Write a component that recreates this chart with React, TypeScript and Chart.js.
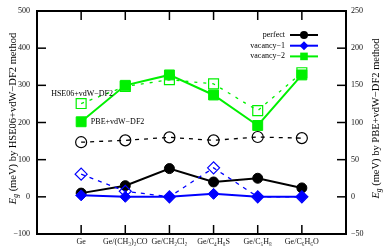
import React, { useEffect, useRef } from 'react';
import { Chart, registerables } from 'chart.js';

Chart.register(...registerables);

const categories = ['Ge', 'Ge/(CH₃)₂CO', 'Ge/CH₂Cl₂', 'Ge/C₄H₈S', 'Ge/C₅H₈', 'Ge/C₆H₆O'];

// PBE+vdW-DF2 band gaps (meV), right axis, filled markers
const pbePerfect = [5, 15, 38, 20, 25, 12];
const pbeVacancy1 = [2, 0, 0, 4, 0, 0];
const pbeVacancy2 = [101, 150, 164, 137, 96, 164];

// HSE06+vdW-DF2 band gaps (meV), left axis, open markers
const hsePerfect = [147, 152, 160, 152, 161, 158];
const hseVacancy1 = [61, 15, 0, 78, 0, 0];
const hseVacancy2 = [251, 297, 315, 304, 232, 334];

const seriesNames = ['perfect', 'vacancy−1', 'vacancy−2'];

const leftRange = [-100, 500];
const leftStep = 100;
const rightRange = [-50, 250];
const rightStep = 50;

const leftTitle = ' (meV) by HSE06+vdW−DF2 method';
const rightTitle = ' (meV) by PBE+vdW−DF2 method';

const annotations = [
  { text: 'HSE06+vdW−DF2', x: 0.32, y: 276, axis: 'y' },
  { text: 'PBE+vdW−DF2', x: 1.22, y: 101, axis: 'y2' },
];

const FONT = "'Liberation Serif', 'Times New Roman', 'DejaVu Serif', serif";
const BLACK = '#000000';
const BLUE = '#0000ff';
const GREEN = '#00f000';

const toXY = (arr: number[]) => arr.map((v, i) => ({ x: i + 1, y: v }));

function mk(label: string, data: number[], axis: string, color: string, style: string, radius: number, filled: boolean, order: number, dash: number[]) {
  return {
    label,
    data: toXY(data),
    yAxisID: axis,
    borderColor: color,
    backgroundColor: filled ? color : 'rgba(0,0,0,0)',
    pointStyle: style,
    pointRadius: radius,
    pointHoverRadius: radius,
    pointBorderColor: color,
    pointBackgroundColor: filled ? color : 'rgba(0,0,0,0)',
    pointBorderWidth: filled ? 1 : 1.2,
    borderWidth: filled ? 2 : 1.3,
    borderDash: dash,
    tension: 0,
    fill: false,
    order,
    clip: false as any,
    filled,
  } as any;
}

function drawMarker(ctx: CanvasRenderingContext2D, style: string, x: number, y: number, r: number, color: string) {
  ctx.fillStyle = color;
  ctx.beginPath();
  if (style === 'circle') {
    ctx.arc(x, y, r, 0, Math.PI * 2);
  } else if (style === 'rectRot') {
    ctx.moveTo(x, y - r);
    ctx.lineTo(x + r, y);
    ctx.lineTo(x, y + r);
    ctx.lineTo(x - r, y);
    ctx.closePath();
  } else {
    ctx.rect(x - r, y - r, 2 * r, 2 * r);
  }
  ctx.fill();
}

const framePlugin = {
  id: 'frameTicks',
  afterDraw(chart: any) {
    const { ctx, chartArea, scales } = chart;
    const { left, right, top, bottom } = chartArea;
    ctx.save();
    ctx.strokeStyle = '#000';
    ctx.lineWidth = 1.5;
    const line = (x1: number, y1: number, x2: number, y2: number) => {
      ctx.beginPath();
      ctx.moveTo(x1, y1);
      ctx.lineTo(x2, y2);
      ctx.stroke();
    };
    scales.y.ticks.forEach((t: any) => {
      const p = scales.y.getPixelForValue(t.value);
      line(left, p, left + 9, p);
    });
    scales.y2.ticks.forEach((t: any) => {
      const p = scales.y2.getPixelForValue(t.value);
      line(right, p, right - 9, p);
    });
    scales.x.ticks.forEach((t: any) => {
      const p = scales.x.getPixelForValue(t.value);
      line(p, bottom, p, bottom - 9);
      line(p, top, p, top + 9);
    });
    ctx.lineWidth = 2;
    ctx.strokeRect(left, top, right - left, bottom - top);
    ctx.restore();
  },
};

const legendPlugin = {
  id: 'customLegend',
  afterDraw(chart: any) {
    const { ctx, chartArea } = chart;
    const items = chart.data.datasets.filter((d: any) => d.filled);
    const textRight = chartArea.right - 61;
    const lineL = chartArea.right - 56;
    const lineR = chartArea.right - 28;
    const mx = (lineL + lineR) / 2;
    ctx.save();
    ctx.font = `8px ${FONT}`;
    ctx.textAlign = 'right';
    ctx.textBaseline = 'middle';
    items.forEach((d: any, i: number) => {
      const y = chartArea.top + 24 + i * 10.7;
      ctx.fillStyle = '#000';
      ctx.fillText(d.label, textRight, y);
      ctx.strokeStyle = d.borderColor;
      ctx.lineWidth = 2;
      ctx.beginPath();
      ctx.moveTo(lineL, y);
      ctx.lineTo(lineR, y);
      ctx.stroke();
      const r = d.pointStyle === 'circle' ? 4 : d.pointStyle === 'rectRot' ? 4.5 : 3.8;
      drawMarker(ctx, d.pointStyle, mx, y, r, d.borderColor);
    });
    ctx.restore();
  },
};

const textPlugin = {
  id: 'texts',
  afterDraw(chart: any) {
    const { ctx, chartArea, scales } = chart;
    ctx.save();
    ctx.fillStyle = '#000';
    ctx.font = `8px ${FONT}`;
    ctx.textAlign = 'left';
    ctx.textBaseline = 'middle';
    annotations.forEach((a) => {
      ctx.fillText(a.text, scales.x.getPixelForValue(a.x), scales[a.axis].getPixelForValue(a.y));
    });

    const drawTitle = (cx: number, cy: number, rest: string) => {
      const big = `10.5px ${FONT}`;
      const bigI = `italic 10.5px ${FONT}`;
      const small = `italic 7.5px ${FONT}`;
      ctx.font = bigI;
      const wE = ctx.measureText('E').width;
      ctx.font = small;
      const wg = ctx.measureText('g').width;
      ctx.font = big;
      const wr = ctx.measureText(rest).width;
      const total = wE + wg + wr;
      ctx.save();
      ctx.translate(cx, cy);
      ctx.rotate(-Math.PI / 2);
      ctx.textBaseline = 'alphabetic';
      ctx.textAlign = 'left';
      let x = -total / 2;
      const base = 3.5;
      ctx.font = bigI;
      ctx.fillText('E', x, base);
      x += wE;
      ctx.font = small;
      ctx.fillText('g', x, base + 2.5);
      x += wg;
      ctx.font = big;
      ctx.fillText(rest, x, base);
      ctx.restore();
    };
    const cy = (chartArea.top + chartArea.bottom) / 2 - 4;
    drawTitle(chartArea.left - 25, cy, leftTitle);
    drawTitle(chartArea.right + 29, cy, rightTitle);
    ctx.restore();
  },
};

const minusFmt = (v: any) => String(v).replace('-', '−');

export default function App() {
  const ref = useRef<HTMLCanvasElement | null>(null);

  useEffect(() => {
    document.body.style.margin = '0';
    const canvas = ref.current!;
    const datasets = [
      mk(seriesNames[1], pbeVacancy1, 'y2', BLUE, 'rectRot', 5.5, true, 3, []),
      mk(seriesNames[0], pbePerfect, 'y2', BLACK, 'circle', 5, true, 4, []),
      mk(seriesNames[2], pbeVacancy2, 'y2', GREEN, 'rect', 7, true, 5, []),
      mk(seriesNames[1], hseVacancy1, 'y', BLUE, 'rectRot', 6, false, 0, [4, 5]),
      mk(seriesNames[0], hsePerfect, 'y', BLACK, 'circle', 5.5, false, 1, [4, 5]),
      mk(seriesNames[2], hseVacancy2, 'y', GREEN, 'rect', 7, false, 2, [3, 6]),
    ];
    // legend order: perfect, vacancy-1, vacancy-2
    const legendOrder = [1, 0, 2];
    const ordered = [...legendOrder.map((i) => datasets[i]), ...datasets.slice(3)];

    const tickFont = { family: FONT, size: 8, lineHeight: 1 };
    const chart = new Chart(canvas, {
      type: 'line',
      data: { datasets: ordered },
      options: {
        animation: false,
        responsive: false,
        maintainAspectRatio: false,
        layout: { padding: { top: 4, left: 0, right: 0, bottom: 0 } },
        plugins: { legend: { display: false }, tooltip: { enabled: false } },
        events: [],
        scales: {
          x: {
            type: 'linear',
            min: 0,
            max: categories.length + 1,
            afterBuildTicks: (s: any) => {
              s.ticks = categories.map((_, i) => ({ value: i + 1 }));
            },
            afterFit: (s: any) => {
              s.height = 15;
            },
            grid: { display: false, drawTicks: false },
            border: { display: false },
            ticks: {
              autoSkip: false,
              maxRotation: 0,
              padding: 4,
              color: '#111',
              font: tickFont,
              callback: (v: any) => categories[Math.round(v) - 1] ?? '',
            },
          },
          y: {
            position: 'left',
            min: leftRange[0],
            max: leftRange[1],
            afterFit: (s: any) => {
              s.width = 37;
            },
            grid: { display: false, drawTicks: false },
            border: { display: false },
            ticks: { stepSize: leftStep, padding: 7, color: '#111', font: tickFont, callback: minusFmt },
          },
          y2: {
            position: 'right',
            min: rightRange[0],
            max: rightRange[1],
            afterFit: (s: any) => {
              s.width = 41;
            },
            grid: { display: false, drawTicks: false },
            border: { display: false },
            ticks: { stepSize: rightStep, padding: 5, color: '#111', font: tickFont, callback: minusFmt },
          },
        },
      } as any,
      plugins: [framePlugin, legendPlugin, textPlugin],
    });
    return () => chart.destroy();
  }, []);

  return (
    <div style={{ width: 387, height: 249 }}>
      <canvas ref={ref} width={387} height={249} style={{ display: 'block' }} />
    </div>
  );
}
